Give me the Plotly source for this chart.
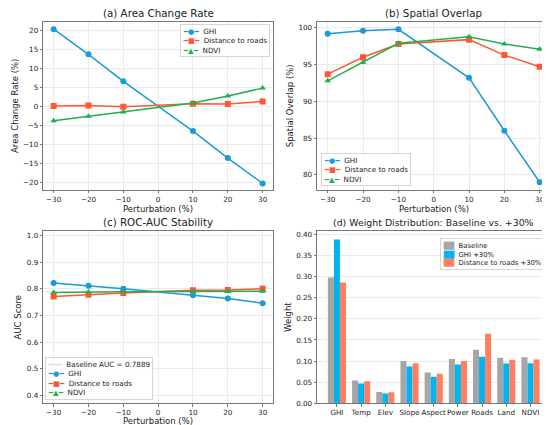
import plotly.graph_objects as go
from plotly.subplots import make_subplots

# =====================
# Data
# =====================
perturb = [-30, -20, -10, 10, 20, 30]

area_ghi = [20.4, 13.8, 6.7, -6.4, -13.5, -20.2]
area_dist = [0.2, 0.3, 0.0, 0.8, 0.7, 1.4]
area_ndvi = [-3.7, -2.5, -1.4, 1.0, 2.8, 4.9]

overlap_ghi = [99.2, 99.6, 99.8, 93.2, 86.0, 79.0]
overlap_dist = [93.7, 96.0, 97.8, 98.4, 96.3, 94.7]
overlap_ndvi = [92.8, 95.3, 97.9, 98.8, 97.8, 97.1]

auc_ghi = [0.822, 0.812, 0.800, 0.776, 0.764, 0.746]
auc_dist = [0.771, 0.778, 0.784, 0.795, 0.796, 0.800]
auc_ndvi = [0.786, 0.788, 0.789, 0.790, 0.790, 0.791]
auc_baseline = 0.7889

factors = ["GHI", "Temp", "Elev", "Slope", "Aspect", "Power", "Roads", "Land", "NDVI"]
w_base = [0.298, 0.054, 0.027, 0.100, 0.073, 0.105, 0.127, 0.108, 0.109]
w_ghi30 = [0.388, 0.047, 0.023, 0.087, 0.063, 0.092, 0.110, 0.094, 0.095]
w_dist30 = [0.286, 0.052, 0.026, 0.095, 0.070, 0.100, 0.165, 0.103, 0.104]

# =====================
# Style
# =====================
FONT = "DejaVu Sans"
C_GHI = "#1a9bd7"
C_DIST = "#ff5733"
C_NDVI = "#22b04b"
C_BAR = ["#a6a6a6", "#00b4f0", "#ff7f61"]
GRID = "#ebebeb"
SPINE = "#777777"
LINE_SPECS = [("GHI", C_GHI, "circle", "●"), ("Distance to roads", C_DIST, "square", "■"),
              ("NDVI", C_NDVI, "triangle-up", "▲")]

fig = make_subplots(rows=2, cols=2)


def _lines(row, col, ys):
    for (name, color, sym, _), y in zip(LINE_SPECS, ys):
        fig.add_trace(
            go.Scatter(
                x=perturb, y=y, name=name, mode="lines+markers",
                line=dict(color=color, width=1.5),
                marker=dict(symbol=sym, size=6, color=color),
                showlegend=False,
            ),
            row=row, col=col,
        )


_lines(1, 1, [area_ghi, area_dist, area_ndvi])
_lines(1, 2, [overlap_ghi, overlap_dist, overlap_ndvi])

fig.add_trace(
    go.Scatter(
        x=[-33, 33], y=[auc_baseline, auc_baseline], mode="lines",
        name="Baseline AUC = 0.7889", line=dict(color="#dddddd", width=1, dash="dash"),
        showlegend=False,
    ),
    row=2, col=1,
)
_lines(2, 1, [auc_ghi, auc_dist, auc_ndvi])

bar_names = ["Baseline", "GHI +30%", "Distance to roads +30%"]
for name, vals, color in zip(bar_names, [w_base, w_ghi30, w_dist30], C_BAR):
    fig.add_trace(
        go.Bar(x=factors, y=vals, name=name, marker=dict(color=color, line=dict(width=0)),
               showlegend=False),
        row=2, col=2,
    )

# =====================
# Layout
# =====================
xd1, xd2 = [0.064, 0.482], [0.562, 0.986]
yd1, yd2 = [0.569, 0.969], [0.059, 0.47]

axis_common = dict(
    showline=True, mirror=True, linecolor=SPINE, linewidth=1,
    ticks="outside", ticklen=2.5, tickcolor=SPINE,
    tickfont=dict(family=FONT, size=7.2, color="#222"),
    gridcolor=GRID, gridwidth=0.8, zeroline=False,
)
title_font = dict(family=FONT, size=8.5, color="#222")
pert_ticks = dict(tickmode="array", tickvals=[-30, -20, -10, 0, 10, 20, 30])

fig.update_layout(
    xaxis=dict(domain=xd1, range=[-33, 33], **pert_ticks, **axis_common),
    yaxis=dict(domain=yd1, range=[-21.8, 22.3], dtick=5, title=dict(text="Area Change Rate (%)", font=title_font, standoff=3), **axis_common),
    xaxis2=dict(domain=xd2, range=[-33, 33], **pert_ticks, **axis_common),
    yaxis2=dict(domain=yd1, range=[78.0, 100.8], dtick=5, title=dict(text="Spatial Overlap (%)", font=title_font, standoff=3), **axis_common),
    xaxis3=dict(domain=xd1, range=[-33, 33], **pert_ticks, **axis_common),
    yaxis3=dict(domain=yd2, range=[0.37, 1.017], dtick=0.1, tickformat=".1f", title=dict(text="AUC Score", font=title_font, standoff=3), **axis_common),
    xaxis4=dict(domain=xd2, range=[-0.82, 8.82], tickangle=0, **axis_common),
    yaxis4=dict(domain=yd2, range=[0, 0.408], dtick=0.05, tickformat=".2f", title=dict(text="Weight", font=title_font, standoff=3), **axis_common),
    barmode="group", bargap=0.25, bargroupgap=0,
    width=550, height=425,
    margin=dict(l=0, r=0, t=0, b=0),
    paper_bgcolor="white", plot_bgcolor="white",
    font=dict(family=FONT, color="#222"),
    showlegend=False,
)
fig.update_xaxes(showgrid=False, row=2, col=2)

# x-axis titles sit tight under the tick labels, as in the reference
for xd, ypos in [(xd1, 0.522), (xd2, 0.522), (xd1, 0.0175)]:
    fig.add_annotation(
        text="Perturbation (%)", x=sum(xd) / 2, y=ypos, xref="paper", yref="paper",
        xanchor="center", yanchor="middle", showarrow=False, font=title_font,
    )

# Compact legends (plotly's own legend rows are too tall at this size)
def _sym(color, glyph):
    return f'<span style="color:{color}">━{glyph}━</span>'


line_rows = [f"{_sym(c, g)}  {n}" for n, c, _, g in LINE_SPECS]
legend_a = "<br>".join(line_rows)
legend_c = "<br>".join([f'<span style="color:#d8d8d8">━━━</span>  Baseline AUC = {auc_baseline}'] + line_rows)
legend_d = "<br>".join(f'<span style="color:{c}">██</span>  {n}' for n, c in zip(bar_names, C_BAR))

leg_boxes = [
    (legend_a, 0.4764, 0.926, "right", 7.2),
    (legend_a, 0.569, 0.617, "left", 7.2),
    (legend_c, 0.067, 0.1176, "left", 7.2),
    (legend_d, 0.977, 0.4153, "right", 6.8),
]
for text, x, y, xa, size in leg_boxes:
    fig.add_annotation(
        text=text, x=x, y=y, xref="paper", yref="paper", xanchor=xa, yanchor="middle",
        align="left", showarrow=False, bgcolor="rgba(255,255,255,0.85)",
        bordercolor="#cccccc", borderwidth=0.8, borderpad=2,
        font=dict(family=FONT, size=size, color="#222"),
    )

titles = [
    ("(a) Area Change Rate", sum(xd1) / 2, yd1[1], 10.3),
    ("(b) Spatial Overlap", sum(xd2) / 2, yd1[1], 10.3),
    ("(c) ROC-AUC Stability", sum(xd1) / 2, yd2[1], 10.3),
    ("(d) Weight Distribution: Baseline vs. +30%", sum(xd2) / 2, yd2[1], 9.4),
]
for text, x, y, size in titles:
    fig.add_annotation(
        text=text, x=x, y=y, xref="paper", yref="paper",
        xanchor="center", yanchor="bottom", yshift=1, showarrow=False,
        font=dict(family=FONT, size=size, color="#222"),
    )

fig.write_html("out.html")
